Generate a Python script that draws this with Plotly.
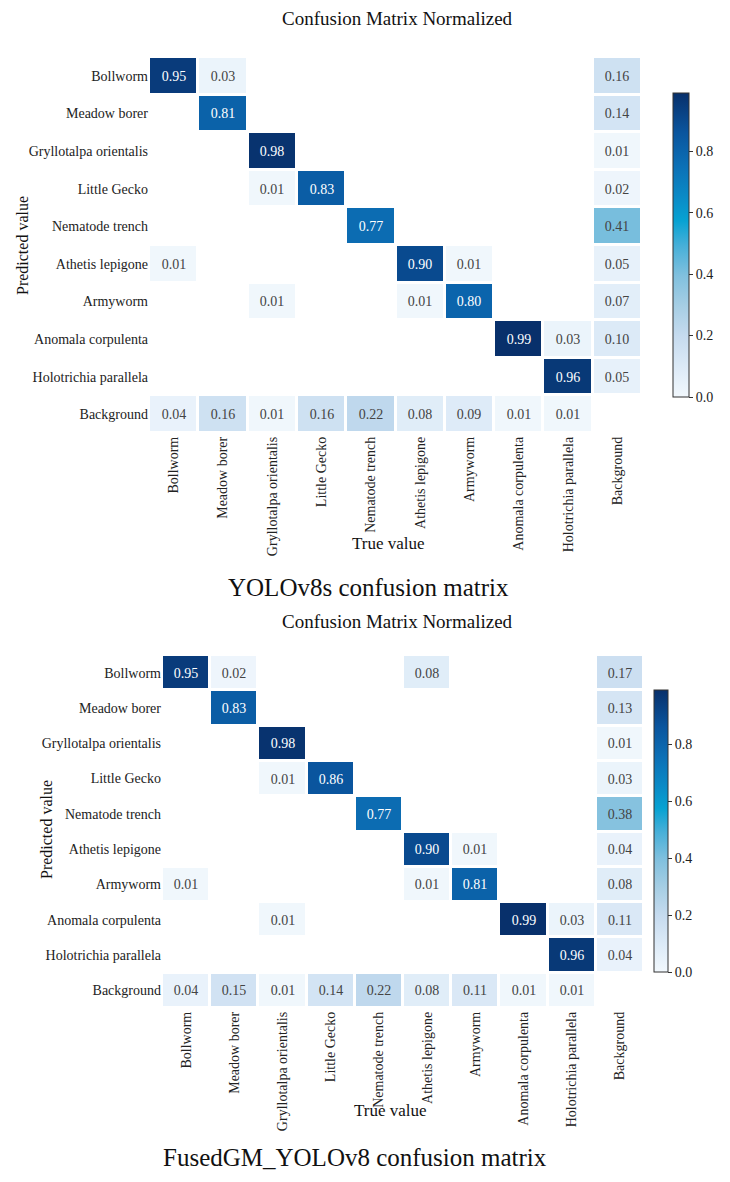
import plotly.graph_objects as go

classes = ["Bollworm", "Meadow borer", "Gryllotalpa orientalis", "Little Gecko",
           "Nematode trench", "Athetis lepigone", "Armyworm", "Anomala corpulenta",
           "Holotrichia parallela", "Background"]

# rows = predicted value, columns = true value
yolov8s_cm = [
    [0.95, 0.03, 0, 0, 0, 0, 0, 0, 0, 0.16],
    [0, 0.81, 0, 0, 0, 0, 0, 0, 0, 0.14],
    [0, 0, 0.98, 0, 0, 0, 0, 0, 0, 0.01],
    [0, 0, 0.01, 0.83, 0, 0, 0, 0, 0, 0.02],
    [0, 0, 0, 0, 0.77, 0, 0, 0, 0, 0.41],
    [0.01, 0, 0, 0, 0, 0.90, 0.01, 0, 0, 0.05],
    [0, 0, 0.01, 0, 0, 0.01, 0.80, 0, 0, 0.07],
    [0, 0, 0, 0, 0, 0, 0, 0.99, 0.03, 0.10],
    [0, 0, 0, 0, 0, 0, 0, 0, 0.96, 0.05],
    [0.04, 0.16, 0.01, 0.16, 0.22, 0.08, 0.09, 0.01, 0.01, 0],
]

fusedgm_cm = [
    [0.95, 0.02, 0, 0, 0, 0.08, 0, 0, 0, 0.17],
    [0, 0.83, 0, 0, 0, 0, 0, 0, 0, 0.13],
    [0, 0, 0.98, 0, 0, 0, 0, 0, 0, 0.01],
    [0, 0, 0.01, 0.86, 0, 0, 0, 0, 0, 0.03],
    [0, 0, 0, 0, 0.77, 0, 0, 0, 0, 0.38],
    [0, 0, 0, 0, 0, 0.90, 0.01, 0, 0, 0.04],
    [0.01, 0, 0, 0, 0, 0.01, 0.81, 0, 0, 0.08],
    [0, 0, 0.01, 0, 0, 0, 0, 0.99, 0.03, 0.11],
    [0, 0, 0, 0, 0, 0, 0, 0, 0.96, 0.04],
    [0.04, 0.15, 0.01, 0.14, 0.22, 0.08, 0.11, 0.01, 0.01, 0],
]

colorbar_ticks = [0.0, 0.2, 0.4, 0.6, 0.8]

W, H = 730, 1182
SERIF = "Liberation Serif"

colorscale = [
    [0.0, "#f2f8fd"], [0.1, "#dceaf7"], [0.2, "#c6dbef"], [0.3, "#a6cee4"],
    [0.4, "#80c0de"], [0.5, "#45afd8"], [0.58, "#07a2d2"], [0.66, "#0a8ac6"],
    [0.76, "#0c70b6"], [0.87, "#0a559e"], [1.0, "#08306b"],
]


def px_x(p):
    return p / W


def px_y(p):
    return 1 - p / H


def prep(cm):
    z = [[v if v > 0 else None for v in row] for row in cm]
    t = [[f"{v:.2f}" if v > 0 else "" for v in row] for row in cm]
    return z, t


fig = go.Figure()

z1, t1 = prep(yolov8s_cm)
z2, t2 = prep(fusedgm_cm)
zmax = max(max(max(r) for r in yolov8s_cm), max(max(r) for r in fusedgm_cm))

fig.add_trace(go.Heatmap(
    z=z1, x=classes, y=classes, text=t1, texttemplate="%{text}",
    textfont=dict(family=SERIF, size=14),
    coloraxis="coloraxis", xgap=3, ygap=3, hoverongaps=False,
    xaxis="x", yaxis="y"))
fig.add_trace(go.Heatmap(
    z=z2, x=classes, y=classes, text=t2, texttemplate="%{text}",
    textfont=dict(family=SERIF, size=14),
    coloraxis="coloraxis2", xgap=3, ygap=3, hoverongaps=False,
    xaxis="x2", yaxis="y2"))

axis_common = dict(showgrid=False, zeroline=False, showline=False, ticks="",
                   tickfont=dict(family=SERIF, size=14, color="#222"))

cb_common = dict(outlinewidth=1, outlinecolor="#333", ticks="outside", ticklen=4,
                 tickcolor="#333", tickvals=colorbar_ticks,
                 ticktext=[f"{v:.1f}" for v in colorbar_ticks],
                 tickfont=dict(family=SERIF, size=14, color="#222"),
                 xanchor="left", yanchor="top", lenmode="fraction",
                 xpad=0, ypad=0)

fig.update_layout(
    width=W, height=H, margin=dict(l=0, r=0, t=0, b=0),
    paper_bgcolor="white", plot_bgcolor="white", showlegend=False,
    xaxis=dict(domain=[px_x(149), px_x(642)], anchor="y", tickangle=-90, **axis_common),
    yaxis=dict(domain=[px_y(433), px_y(57)], anchor="x", autorange="reversed", **axis_common),
    xaxis2=dict(domain=[px_x(162), px_x(644)], anchor="y2", tickangle=-90, **axis_common),
    yaxis2=dict(domain=[px_y(1008), px_y(655)], anchor="x2", autorange="reversed", **axis_common),
    coloraxis=dict(colorscale=colorscale, cmin=0, cmax=zmax,
                   colorbar=dict(x=px_x(673), y=px_y(93), len=(397 - 93) / H,
                                 thickness=16, **cb_common)),
    coloraxis2=dict(colorscale=colorscale, cmin=0, cmax=zmax,
                    colorbar=dict(x=px_x(654), y=px_y(690), len=(972 - 690) / H,
                                  thickness=14, **cb_common)),
)

annos = [
    ("Confusion Matrix Normalized", 397, 18, 19, 0),
    ("Predicted value", 22, 246, 16, -90),
    ("True value", 388, 543, 17, 0),
    ("YOLOv8s confusion matrix", 368, 588, 25, 0),
    ("Confusion Matrix Normalized", 397, 621, 19, 0),
    ("Predicted value", 46, 830, 16, -90),
    ("True value", 390, 1110, 17, 0),
    ("FusedGM_YOLOv8 confusion matrix", 355, 1157, 25, 0),
]
for text, x, y, size, ang in annos:
    fig.add_annotation(text=text, x=px_x(x), y=px_y(y), xref="paper", yref="paper",
                       showarrow=False, xanchor="center", yanchor="middle",
                       textangle=ang, font=dict(family=SERIF, size=size, color="#111"))

fig.write_html("out.html")
